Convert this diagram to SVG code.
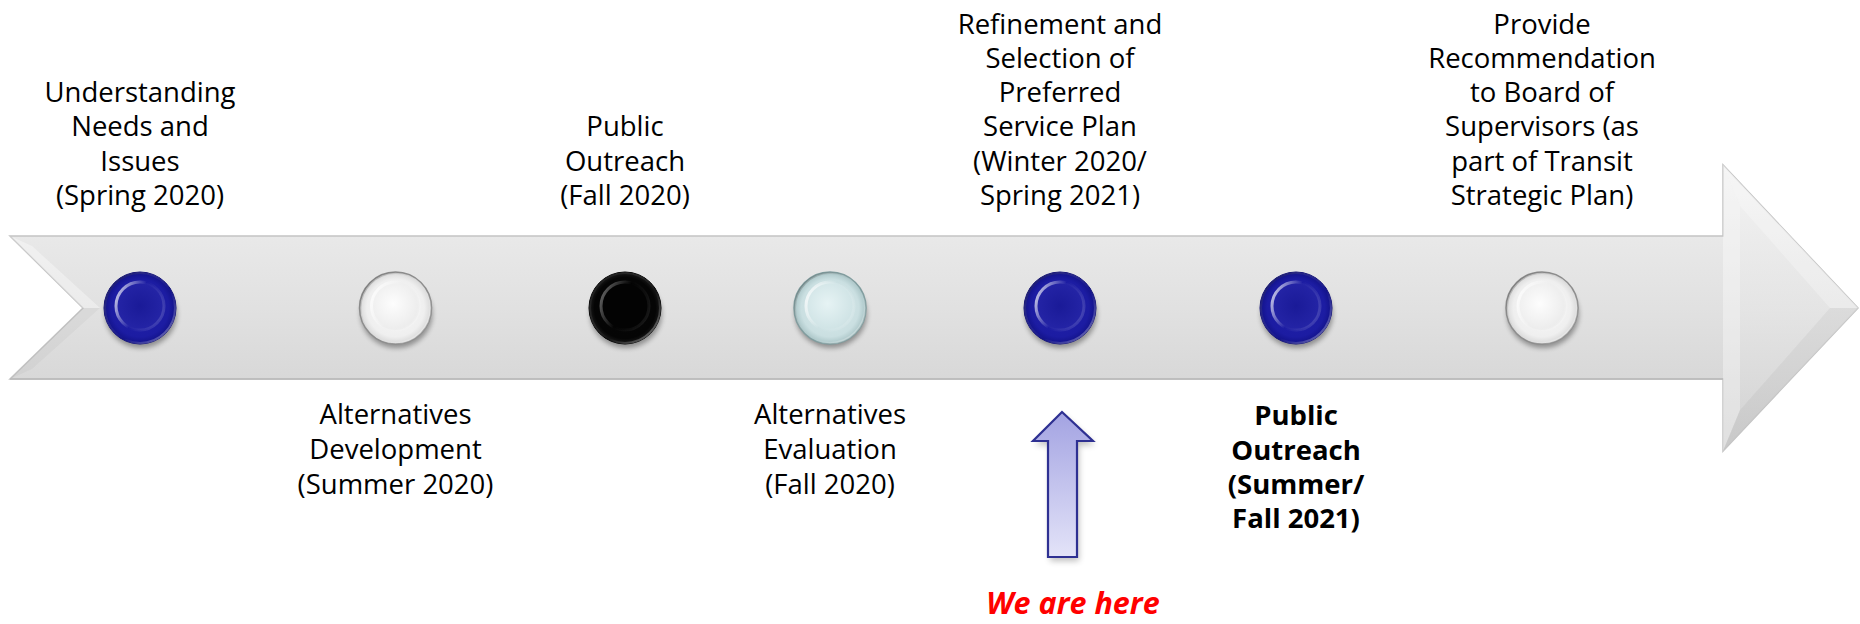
<svg xmlns="http://www.w3.org/2000/svg" width="1860" height="624" viewBox="0 0 1860 624">
<style>
.lbl{font-family:"Open Sans","Liberation Sans",sans-serif;font-size:27.5px;fill:#000;text-anchor:middle}
.bold{font-weight:bold}
.here{font-family:"Open Sans","Liberation Sans",sans-serif;font-size:30.5px;font-weight:bold;font-style:italic;fill:#ff0000;text-anchor:middle}
.shadow{fill:#000;opacity:0.35;filter:url(#blur)}
</style>
<defs>
<filter id="blur" x="-30%" y="-30%" width="160%" height="160%"><feGaussianBlur stdDeviation="2.5"/></filter>
<filter id="blur2" x="-30%" y="-30%" width="160%" height="160%"><feGaussianBlur stdDeviation="3"/></filter>
<linearGradient id="bandGrad" x1="0" y1="0" x2="0" y2="1">
<stop offset="0" stop-color="#f0f0f0"/><stop offset="0.5" stop-color="#e1e1e1"/><stop offset="1" stop-color="#cfcfcf"/>
</linearGradient>
<linearGradient id="headGrad" x1="0" y1="0" x2="0" y2="1">
<stop offset="0" stop-color="#f4f4f4"/><stop offset="0.5" stop-color="#e6e6e6"/><stop offset="1" stop-color="#d2d2d2"/>
</linearGradient>
<linearGradient id="ptrGrad" x1="0" y1="0" x2="0" y2="1">
<stop offset="0" stop-color="#a3a3e2"/><stop offset="1" stop-color="#e3e3f8"/>
</linearGradient>
<linearGradient id="rimLight" x1="0" y1="0" x2="1" y2="1">
<stop offset="0" stop-color="#000" stop-opacity="0.35"/><stop offset="0.6" stop-color="#fff" stop-opacity="0"/><stop offset="1" stop-color="#fff" stop-opacity="0.45"/>
</linearGradient>
<linearGradient id="ringHi" x1="0" y1="0.3" x2="1" y2="0.7">
<stop offset="0" stop-color="#fff" stop-opacity="0.7"/><stop offset="0.45" stop-color="#fff" stop-opacity="0"/><stop offset="1" stop-color="#fff" stop-opacity="0.15"/>
</linearGradient>
<radialGradient id="blueOuter" cx="0.5" cy="0.5" r="0.5">
<stop offset="0" stop-color="#2020aa"/><stop offset="0.8" stop-color="#1c1ca2"/><stop offset="1" stop-color="#121288"/>
</radialGradient>
<radialGradient id="blueInner" cx="0.5" cy="0.5" r="0.5">
<stop offset="0" stop-color="#1a1a98"/><stop offset="1" stop-color="#2424a6"/>
</radialGradient>
<radialGradient id="whiteOuter" cx="0.5" cy="0.5" r="0.5">
<stop offset="0" stop-color="#f8f8f8"/><stop offset="0.8" stop-color="#efefef"/><stop offset="1" stop-color="#d8d8d8"/>
</radialGradient>
<radialGradient id="whiteInner" cx="0.45" cy="0.45" r="0.55">
<stop offset="0" stop-color="#fdfdfd"/><stop offset="1" stop-color="#ececec"/>
</radialGradient>
<radialGradient id="blackOuter" cx="0.5" cy="0.5" r="0.5">
<stop offset="0" stop-color="#060606"/><stop offset="0.85" stop-color="#050505"/><stop offset="1" stop-color="#1a1a1a"/>
</radialGradient>
<radialGradient id="cyanOuter" cx="0.5" cy="0.5" r="0.5">
<stop offset="0" stop-color="#d8eaec"/><stop offset="0.8" stop-color="#cadfe1"/><stop offset="1" stop-color="#a9c4c6"/>
</radialGradient>
<radialGradient id="cyanInner" cx="0.45" cy="0.45" r="0.55">
<stop offset="0" stop-color="#e6f3f4"/><stop offset="1" stop-color="#cfe3e5"/>
</radialGradient>
</defs>

<g id="timeline">
<polygon points="10,236 1723,236 1723,165 1858,308 1723,451 1723,379 10,379 83,308" fill="url(#bandGrad)" stroke="#c4c4c4" stroke-width="1.5"/>
<polygon points="1723,165 1858,308 1723,451 1740,410 1740,206" fill="url(#headGrad)" opacity="0.7"/>
<polygon points="1723,165 1740,206 1740,410 1723,451" fill="#ffffff" opacity="0.35"/>
<polygon points="1740,206 1830,308 1858,308 1723,165" fill="#ffffff" opacity="0.25"/>
<polygon points="1740,410 1830,308 1858,308 1723,451" fill="#000000" opacity="0.04"/>
<polygon points="10,236 83,308 100,308 32,246" fill="#ffffff" opacity="0.35"/>
<polygon points="10,379 83,308 100,308 32,369" fill="#000000" opacity="0.03"/>
<line x1="10" y1="379" x2="1723" y2="379" stroke="#b8b8b8" stroke-width="1.5"/>
</g>

<g id="node1">
<ellipse class="shadow" cx="141" cy="314" rx="36" ry="34"/>
<circle cx="140" cy="308" r="36" fill="url(#blueOuter)" stroke="#11117a" stroke-width="1"/>
<circle cx="140" cy="308" r="35" fill="none" stroke="url(#rimLight)" stroke-width="2"/>
<circle cx="140" cy="306" r="24" fill="url(#blueInner)" stroke="url(#ringHi)" stroke-width="3"/>
<text class="lbl"><tspan x="140" y="102">Understanding</tspan><tspan x="140" y="136">Needs and</tspan><tspan x="140" y="171">Issues</tspan><tspan x="140" y="205">(Spring 2020)</tspan></text>
</g>

<g id="node2">
<ellipse class="shadow" cx="396.5" cy="314" rx="36" ry="34"/>
<circle cx="395.5" cy="308" r="36" fill="url(#whiteOuter)" stroke="#8c8c8c" stroke-width="1.5"/>
<circle cx="395.5" cy="308" r="35" fill="none" stroke="url(#rimLight)" stroke-width="2"/>
<circle cx="395.5" cy="306" r="24" fill="url(#whiteInner)" stroke="url(#ringHi)" stroke-width="3"/>
<text class="lbl"><tspan x="395.5" y="424">Alternatives</tspan><tspan x="395.5" y="459">Development</tspan><tspan x="395.5" y="494">(Summer 2020)</tspan></text>
</g>

<g id="node3">
<ellipse class="shadow" cx="626" cy="314" rx="36" ry="34"/>
<circle cx="625" cy="308" r="36" fill="url(#blackOuter)" stroke="#000" stroke-width="1"/>
<circle cx="625" cy="308" r="35" fill="none" stroke="url(#rimLight)" stroke-width="2"/>
<circle cx="625" cy="306" r="24" fill="#030303" stroke="url(#ringHi)" stroke-width="3" stroke-opacity="0.5"/>
<text class="lbl"><tspan x="625" y="136">Public</tspan><tspan x="625" y="171">Outreach</tspan><tspan x="625" y="205">(Fall 2020)</tspan></text>
</g>

<g id="node4">
<ellipse class="shadow" cx="831" cy="314" rx="36" ry="34"/>
<circle cx="830" cy="308" r="36" fill="url(#cyanOuter)" stroke="#7f9c9e" stroke-width="1.5"/>
<circle cx="830" cy="308" r="35" fill="none" stroke="url(#rimLight)" stroke-width="2"/>
<circle cx="830" cy="306" r="24" fill="url(#cyanInner)" stroke="url(#ringHi)" stroke-width="3"/>
<text class="lbl"><tspan x="830" y="424">Alternatives</tspan><tspan x="830" y="459">Evaluation</tspan><tspan x="830" y="494">(Fall 2020)</tspan></text>
</g>

<g id="node5">
<ellipse class="shadow" cx="1061" cy="314" rx="36" ry="34"/>
<circle cx="1060" cy="308" r="36" fill="url(#blueOuter)" stroke="#11117a" stroke-width="1"/>
<circle cx="1060" cy="308" r="35" fill="none" stroke="url(#rimLight)" stroke-width="2"/>
<circle cx="1060" cy="306" r="24" fill="url(#blueInner)" stroke="url(#ringHi)" stroke-width="3"/>
<text class="lbl"><tspan x="1060" y="34">Refinement and</tspan><tspan x="1060" y="68">Selection of</tspan><tspan x="1060" y="102">Preferred</tspan><tspan x="1060" y="136">Service Plan</tspan><tspan x="1060" y="171">(Winter 2020/</tspan><tspan x="1060" y="205">Spring 2021)</tspan></text>
</g>

<g id="node6">
<ellipse class="shadow" cx="1297" cy="314" rx="36" ry="34"/>
<circle cx="1296" cy="308" r="36" fill="url(#blueOuter)" stroke="#11117a" stroke-width="1"/>
<circle cx="1296" cy="308" r="35" fill="none" stroke="url(#rimLight)" stroke-width="2"/>
<circle cx="1296" cy="306" r="24" fill="url(#blueInner)" stroke="url(#ringHi)" stroke-width="3"/>
<text class="lbl bold"><tspan x="1296" y="425">Public</tspan><tspan x="1296" y="460">Outreach</tspan><tspan x="1296" y="494">(Summer/</tspan><tspan x="1296" y="528">Fall 2021)</tspan></text>
</g>

<g id="node7">
<ellipse class="shadow" cx="1543" cy="314" rx="36" ry="34"/>
<circle cx="1542" cy="308" r="36" fill="url(#whiteOuter)" stroke="#8c8c8c" stroke-width="1.5"/>
<circle cx="1542" cy="308" r="35" fill="none" stroke="url(#rimLight)" stroke-width="2"/>
<circle cx="1542" cy="306" r="24" fill="url(#whiteInner)" stroke="url(#ringHi)" stroke-width="3"/>
<text class="lbl"><tspan x="1542" y="34">Provide</tspan><tspan x="1542" y="68">Recommendation</tspan><tspan x="1542" y="102">to Board of</tspan><tspan x="1542" y="136">Supervisors (as</tspan><tspan x="1542" y="171">part of Transit</tspan><tspan x="1542" y="205">Strategic Plan)</tspan></text>
</g>

<g id="pointer">
<path d="M1064,416 L1095,445 L1079,445 L1079,561 L1050,561 L1050,445 L1035,445 Z" fill="#000" opacity="0.25" filter="url(#blur2)"/>
<path d="M1062,412 L1093,441 L1077,441 L1077,557 L1048,557 L1048,441 L1033,441 Z" fill="url(#ptrGrad)" stroke="#2e3092" stroke-width="2.2" stroke-linejoin="miter"/>
<text class="here" x="1073" y="614">We are here</text>
</g>
</svg>
